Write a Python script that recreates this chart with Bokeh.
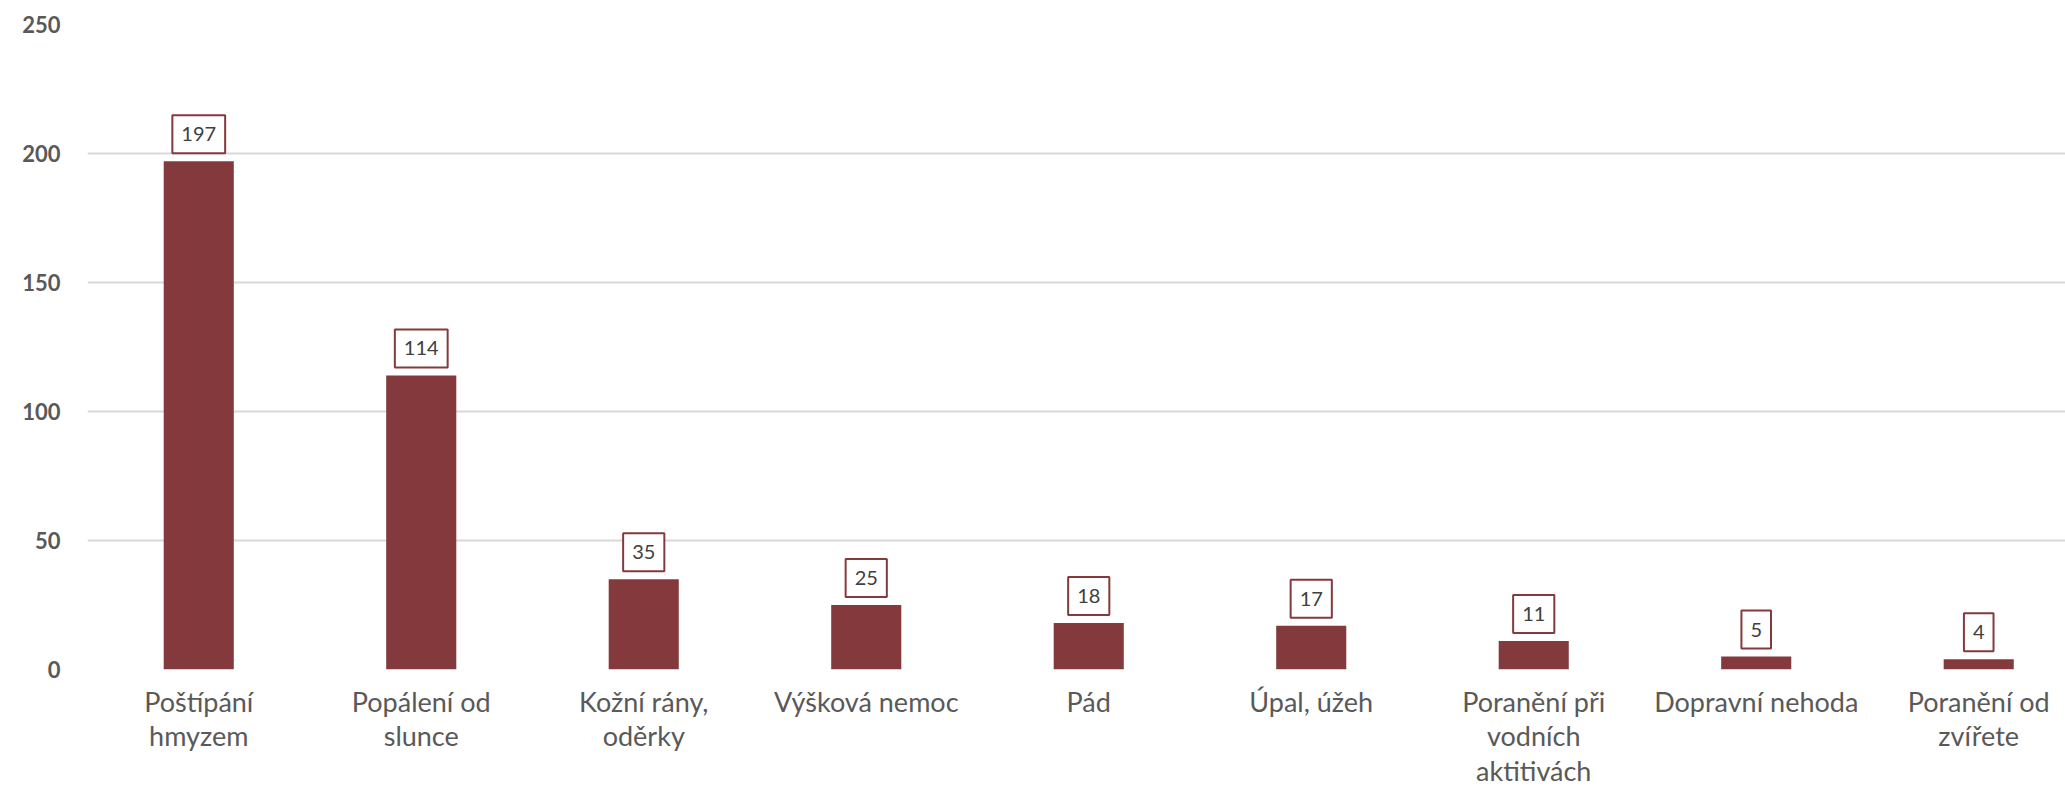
from bokeh.plotting import figure
from bokeh.models import Range1d, FixedTicker, ColumnDataSource
from bokeh.core.properties import value
from bokeh.embed import file_html
from bokeh.resources import INLINE

categories = [
    "Poštípání\nhmyzem",
    "Popálení od\nslunce",
    "Kožní rány,\noděrky",
    "Výšková nemoc",
    "Pád",
    "Úpal, úžeh",
    "Poranění při\nvodních\naktitivách",
    "Dopravní nehoda",
    "Poranění od\nzvířete",
]
counts = [197, 114, 35, 25, 18, 17, 11, 5, 4]
y_ticks = [0, 50, 100, 150, 200, 250]

BAR = "#843A3C"
FONT = "Lato"

xs = list(range(len(categories)))
src = ColumnDataSource(dict(x=xs, v=counts, label=[str(c) for c in counts]))

p = figure(
    width=2065, height=789,
    x_range=Range1d(-0.5, 8.39), y_range=Range1d(0, 250),
    output_backend="svg", toolbar_location=None,
    min_border_left=87, min_border_right=0, min_border_top=24, min_border_bottom=120,
)
p.outline_line_color = None
p.background_fill_color = "white"

p.vbar(x="x", top="v", width=0.315, source=src, fill_color=BAR, line_color=None)

p.text(
    x="x", y="v", text="label", source=src,
    text_align="center", text_baseline="bottom", y_offset=-8,
    text_font=value(FONT), text_font_size="20px", text_color="#404040",
    background_fill_color="white", border_line_color=BAR, border_line_width=2,
    padding=dict(left=9, right=9, top=12, bottom=12),
)

p.xgrid.grid_line_color = None
p.ygrid.grid_line_color = "#D9D9D9"
p.ygrid.grid_line_width = 2
p.ygrid.ticker = FixedTicker(ticks=y_ticks)

xa = p.xaxis[0]
xa.ticker = FixedTicker(ticks=xs)
xa.major_label_overrides = {i: c for i, c in zip(xs, categories)}
xa.axis_line_color = None
xa.major_tick_line_color = None
xa.minor_tick_line_color = None
xa.major_tick_out = 0
xa.major_label_standoff = 15
xa.major_label_text_font = FONT
xa.major_label_text_font_size = "27px"
xa.major_label_text_color = "#595959"
xa.major_label_text_line_height = 1.05

ya = p.yaxis[0]
ya.ticker = FixedTicker(ticks=y_ticks)
ya.axis_line_color = None
ya.major_tick_line_color = None
ya.minor_tick_line_color = None
ya.major_tick_out = 0
ya.major_label_standoff = 27
ya.major_label_text_font = FONT
ya.major_label_text_font_style = "bold"
ya.major_label_text_font_size = "22px"
ya.major_label_text_color = "#595959"

open("out.html", "w").write(file_html(p, INLINE))
